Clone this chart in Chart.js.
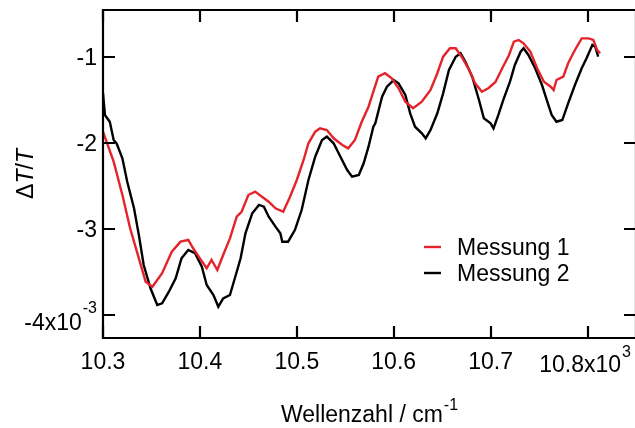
<!DOCTYPE html>
<html>
<head>
<meta charset="utf-8">
<script src="https://cdn.jsdelivr.net/npm/chart.js@4"></script>
<style>
  html, body { margin: 0; padding: 0; background: #fff; }
  canvas { display: block; }
</style>
</head>
<body>
<canvas id="c" width="635" height="428"></canvas>
<script>
// Wavenumber in units of 10^3 cm^-1, ΔT/T in units of 10^-3
const wavenumber1 = [10.300, 10.311, 10.320, 10.328, 10.337, 10.344, 10.351, 10.361, 10.371, 10.380,
  10.388, 10.393, 10.400, 10.407, 10.412, 10.418, 10.424, 10.431, 10.438, 10.443,
  10.450, 10.457, 10.464, 10.471, 10.478, 10.486, 10.493, 10.500, 10.507, 10.512,
  10.519, 10.524, 10.531, 10.538, 10.547, 10.553, 10.560, 10.567, 10.574, 10.579,
  10.584, 10.591, 10.598, 10.605, 10.612, 10.620, 10.629, 10.638, 10.645, 10.651,
  10.658, 10.664, 10.670, 10.677, 10.684, 10.691, 10.698, 10.705, 10.712, 10.719,
  10.724, 10.729, 10.734, 10.741, 10.748, 10.755, 10.762, 10.765, 10.768, 10.775,
  10.780, 10.787, 10.794, 10.801, 10.806, 10.810, 10.813];
const messung1 = [-1.867, -2.217, -2.605, -2.993, -3.343, -3.615, -3.674, -3.517, -3.266, -3.149,
  -3.129, -3.226, -3.343, -3.459, -3.362, -3.479, -3.304, -3.110, -2.858, -2.800,
  -2.605, -2.566, -2.625, -2.683, -2.760, -2.800, -2.625, -2.430, -2.197, -2.002,
  -1.867, -1.828, -1.847, -1.944, -2.022, -2.061, -1.964, -1.751, -1.576, -1.401,
  -1.226, -1.186, -1.245, -1.361, -1.517, -1.594, -1.517, -1.381, -1.186, -0.993,
  -0.895, -0.895, -0.993, -1.128, -1.303, -1.401, -1.358, -1.288, -1.128, -0.973,
  -0.818, -0.798, -0.837, -0.935, -1.128, -1.284, -1.343, -1.381, -1.265, -1.226,
  -1.070, -0.915, -0.779, -0.779, -0.798, -0.915, -0.953];

const wavenumber2 = [10.300, 10.302, 10.307, 10.311, 10.314, 10.320, 10.325, 10.332, 10.337, 10.342,
  10.349, 10.356, 10.361, 10.368, 10.375, 10.381, 10.388, 10.395, 10.402, 10.407,
  10.414, 10.419, 10.424, 10.431, 10.438, 10.442, 10.447, 10.454, 10.461, 10.466,
  10.471, 10.478, 10.483, 10.485, 10.491, 10.498, 10.505, 10.512, 10.519, 10.526,
  10.531, 10.538, 10.545, 10.552, 10.557, 10.564, 10.569, 10.574, 10.579, 10.581,
  10.588, 10.593, 10.600, 10.605, 10.612, 10.617, 10.622, 10.629, 10.633, 10.638,
  10.645, 10.651, 10.657, 10.664, 10.669, 10.674, 10.681, 10.688, 10.693, 10.700,
  10.703, 10.708, 10.713, 10.720, 10.725, 10.731, 10.734, 10.739, 10.746, 10.753,
  10.758, 10.763, 10.768, 10.774, 10.780, 10.787, 10.794, 10.799, 10.805, 10.808,
  10.811];
const messung2 = [-1.416, -1.672, -1.751, -1.964, -2.002, -2.177, -2.450, -2.760, -3.071, -3.421,
  -3.692, -3.887, -3.867, -3.732, -3.576, -3.343, -3.246, -3.284, -3.441, -3.654,
  -3.770, -3.907, -3.809, -3.770, -3.499, -3.343, -3.051, -2.818, -2.721, -2.741,
  -2.858, -2.974, -3.051, -3.149, -3.149, -3.013, -2.780, -2.430, -2.159, -1.964,
  -1.925, -2.002, -2.159, -2.314, -2.392, -2.372, -2.235, -2.042, -1.809, -1.769,
  -1.459, -1.343, -1.265, -1.303, -1.439, -1.653, -1.809, -1.886, -1.944, -1.847,
  -1.653, -1.420, -1.148, -0.993, -0.953, -1.051, -1.226, -1.498, -1.711, -1.769,
  -1.828, -1.672, -1.498, -1.284, -1.090, -0.935, -0.895, -0.973, -1.128, -1.323,
  -1.498, -1.672, -1.751, -1.731, -1.536, -1.323, -1.128, -1.012, -0.857, -0.876,
  -0.993];

const seriesNames = ['Messung 1', 'Messung 2'];
const seriesColors = ['#e3242b', '#000000'];
const xTickValues = [10.3, 10.4, 10.5, 10.6, 10.7, 10.8];
const yTickValues = [-1, -2, -3, -4];

const FONT = '"Liberation Sans", Arial, sans-serif';
const fontMain = '23px ' + FONT;
const fontSup = '16px ' + FONT;

function toPoints(xs, ys) { return xs.map((x, i) => ({ x: x, y: ys[i] })); }

// Text with a trailing superscript; align: 'left' | 'right' | 'center'
function drawSup(ctx, main, sup, x, y, supY, align) {
  ctx.font = fontMain;
  const wm = ctx.measureText(main).width;
  ctx.font = fontSup;
  const ws = ctx.measureText(sup).width;
  const total = wm + ws + 1;
  let x0 = x;
  if (align === 'right') x0 = x - total;
  else if (align === 'center') x0 = x - total / 2;
  ctx.textAlign = 'left';
  ctx.font = fontMain;
  ctx.fillText(main, x0, y);
  ctx.font = fontSup;
  ctx.fillText(sup, x0 + wm + 1, supY);
}

const framePlugin = {
  id: 'frame',
  afterDraw(chart) {
    const ctx = chart.ctx;
    const a = chart.chartArea;
    const xs = chart.scales.x, ys = chart.scales.y;
    const right = a.right + 1;
    ctx.save();
    ctx.strokeStyle = '#000';
    ctx.fillStyle = '#000';
    ctx.lineWidth = 2.2;
    ctx.lineCap = 'butt';
    // frame
    ctx.beginPath();
    ctx.moveTo(a.left, a.top - 1); ctx.lineTo(a.left, a.bottom + 1);
    ctx.moveTo(a.left - 1, a.bottom); ctx.lineTo(right + 1, a.bottom);
    ctx.moveTo(a.left - 1, a.top); ctx.lineTo(right + 1, a.top);
    ctx.moveTo(right, a.top); ctx.lineTo(right, a.bottom);
    ctx.stroke();
    // inward ticks
    const tl = 12;
    ctx.beginPath();
    xTickValues.forEach(v => {
      const px = Math.round(xs.getPixelForValue(v));
      ctx.moveTo(px, a.bottom); ctx.lineTo(px, a.bottom - tl);
      ctx.moveTo(px, a.top); ctx.lineTo(px, a.top + tl);
    });
    yTickValues.forEach(v => {
      const py = Math.round(ys.getPixelForValue(v));
      ctx.moveTo(a.left, py); ctx.lineTo(a.left + tl, py);
      ctx.moveTo(right, py); ctx.lineTo(right - tl, py);
    });
    ctx.stroke();

    // x tick labels
    ctx.textBaseline = 'alphabetic';
    xTickValues.forEach((v, i) => {
      const px = xs.getPixelForValue(v);
      if (i === xTickValues.length - 1) {
        drawSup(ctx, v.toFixed(1) + 'x10', '3', 631, 372, 357, 'right');
      } else {
        ctx.font = fontMain;
        ctx.textAlign = 'center';
        ctx.fillText(v.toFixed(1), px, 369);
      }
    });
    // y tick labels
    yTickValues.forEach((v, i) => {
      const py = ys.getPixelForValue(v);
      if (i === yTickValues.length - 1) {
        drawSup(ctx, String(v) + 'x10', '-3', 97, py + 15, py - 2, 'right');
      } else {
        ctx.font = fontMain;
        ctx.textAlign = 'right';
        ctx.fillText(String(v), 97, py + 8);
      }
    });

    // x axis title
    drawSup(ctx, 'Wellenzahl / cm', '-1', (a.left + right) / 2, 422, 410, 'center');

    // y axis title: ΔT/T with italic T
    ctx.save();
    ctx.translate(33, (a.top + a.bottom) / 2);
    ctx.rotate(-Math.PI / 2);
    const parts = [['Δ', false], ['T', true], ['/', false], ['T', true]];
    let w = 0;
    parts.forEach(p => { ctx.font = (p[1] ? 'italic ' : '') + fontMain; w += ctx.measureText(p[0]).width; });
    let cx = -w / 2;
    ctx.textAlign = 'left';
    parts.forEach(p => {
      ctx.font = (p[1] ? 'italic ' : '') + fontMain;
      ctx.fillText(p[0], cx, 0);
      cx += ctx.measureText(p[0]).width;
    });
    ctx.restore();

    // legend
    chart.data.datasets.forEach((ds, i) => {
      const ly = 247 + i * 26;
      ctx.strokeStyle = ds.borderColor;
      ctx.lineWidth = 2.4;
      ctx.beginPath();
      ctx.moveTo(424, ly); ctx.lineTo(441, ly);
      ctx.stroke();
      ctx.fillStyle = '#000';
      ctx.font = fontMain;
      ctx.textAlign = 'left';
      ctx.fillText(ds.label, 457, ly + 8);
    });
    ctx.restore();
  }
};

new Chart(document.getElementById('c'), {
  type: 'line',
  data: {
    datasets: [
      { label: seriesNames[0], data: toPoints(wavenumber1, messung1), borderColor: seriesColors[0], borderWidth: 2.4, pointRadius: 0, tension: 0, fill: false },
      { label: seriesNames[1], data: toPoints(wavenumber2, messung2), borderColor: seriesColors[1], borderWidth: 2.4, pointRadius: 0, tension: 0, fill: false }
    ]
  },
  options: {
    responsive: false,
    animation: false,
    devicePixelRatio: 1,
    layout: { padding: { top: 10, right: 0, left: 0, bottom: 0 } },
    plugins: { legend: { display: false }, tooltip: { enabled: false } },
    scales: {
      x: {
        type: 'linear', min: 10.3, max: 10.849,
        ticks: { display: false }, grid: { display: false }, border: { display: false },
        afterFit(s) { s.height = 90; }
      },
      y: {
        type: 'linear', min: -4.2716, max: -0.4487,
        ticks: { display: false }, grid: { display: false }, border: { display: false },
        afterFit(s) { s.width = 103; }
      }
    }
  },
  plugins: [framePlugin]
});
</script>
</body>
</html>
